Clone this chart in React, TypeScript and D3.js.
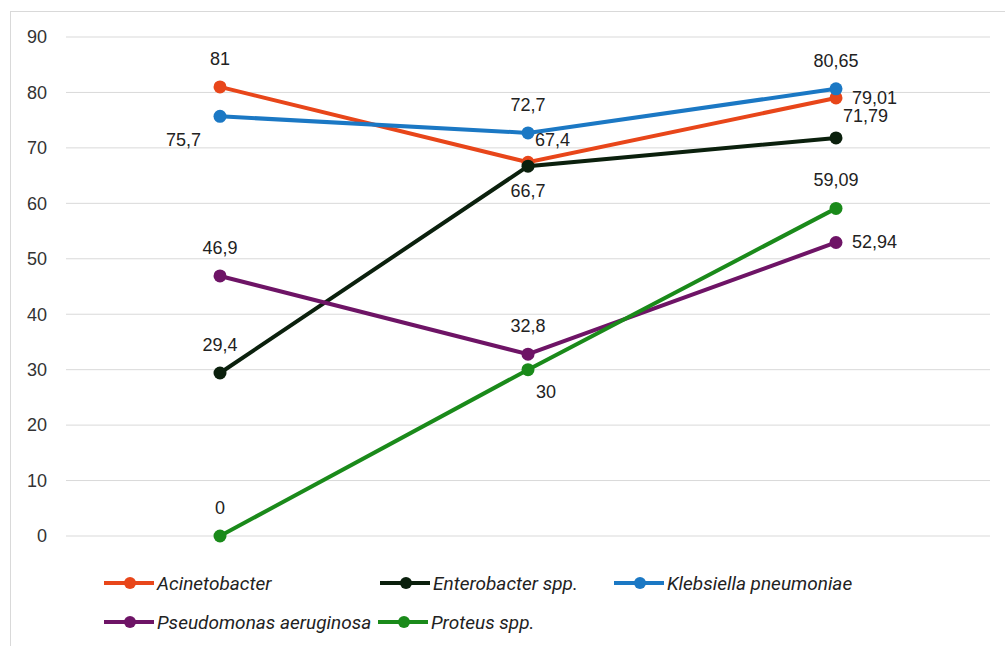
import React from "react";
import * as d3 from "d3";

const categories = ["A", "B", "C"];
const yTicks = [0, 10, 20, 30, 40, 50, 60, 70, 80, 90];
const seriesNames = [
  "Acinetobacter",
  "Enterobacter spp.",
  "Klebsiella pneumoniae",
  "Pseudomonas aeruginosa",
  "Proteus spp.",
];
const acinetobacter = [81, 67.4, 79.01];
const enterobacter = [29.4, 66.7, 71.79];
const klebsiella = [75.7, 72.7, 80.65];
const pseudomonas = [46.9, 32.8, 52.94];
const proteus = [0, 30, 59.09];
const seriesColors = ["#E8461A", "#0B200D", "#1B78C4", "#6E1466", "#1A8A1A"];

// label placement per point
const labelPos = [
  ["above", "aboveRight", "right"],
  ["above", "below", "aboveRight"],
  ["leftBelow", "above", "above"],
  ["above", "above", "right"],
  ["above", "belowRight", "above"],
];

const W = 1005;
const H = 646;

export default function App() {
  const values = [acinetobacter, enterobacter, klebsiella, pseudomonas, proteus];
  const x = d3.scaleBand().domain(categories).range([66, 990]);
  const y = d3.scaleLinear().domain([0, 90]).range([536, 37]);
  const cx = (c: string) => (x(c) as number) + x.bandwidth() / 2;
  const line = d3
    .line<number>()
    .x((_, i) => cx(categories[i]))
    .y((d) => y(d));
  const fmt = (v: number) => String(v).replace(".", ",");
  const off: Record<string, [number, number, string]> = {
    above: [0, -22, "middle"],
    below: [0, 31, "middle"],
    right: [16, 6, "start"],
    aboveRight: [7, -16, "start"],
    belowRight: [8, 28, "start"],
    leftBelow: [-19, 30, "end"],
  };
  const legendItems = [
    { i: 0, x: 104, y: 583 },
    { i: 1, x: 380, y: 583 },
    { i: 2, x: 614, y: 583 },
    { i: 3, x: 104, y: 622 },
    { i: 4, x: 378, y: 622 },
  ];
  return (
    <svg
      width={W}
      height={H}
      style={{ position: "absolute", left: 0, top: 0, background: "#fff" }}
      fontFamily="'Liberation Sans', Arial, sans-serif"
    >
      <rect x={10.5} y={11.5} width={1000} height={640} fill="#fff" stroke="#d9d9d9" />
      {yTicks.map((t) => (
        <g key={t}>
          <line x1={66} x2={990} y1={y(t)} y2={y(t)} stroke="#d9d9d9" strokeWidth={1} />
          <text x={47} y={y(t)} dy="0.35em" textAnchor="end" fontSize={18} fill="#333">
            {t}
          </text>
        </g>
      ))}
      {values.map((vals, s) => (
        <g key={s}>
          <path d={line(vals) || ""} fill="none" stroke={seriesColors[s]} strokeWidth={4} />
          {vals.map((v, i) => (
            <circle key={i} cx={cx(categories[i])} cy={y(v)} r={6.5} fill={seriesColors[s]} />
          ))}
        </g>
      ))}
      {values.map((vals, s) =>
        vals.map((v, i) => {
          const o = off[labelPos[s][i]];
          return (
            <text
              key={`${s}-${i}`}
              x={cx(categories[i]) + o[0]}
              y={y(v) + o[1]}
              textAnchor={o[2] as any}
              fontSize={18}
              fill="#222"
            >
              {fmt(v)}
            </text>
          );
        })
      )}
      {legendItems.map((it) => (
        <g key={it.i}>
          <line
            x1={it.x}
            x2={it.x + 50}
            y1={it.y}
            y2={it.y}
            stroke={seriesColors[it.i]}
            strokeWidth={4}
          />
          <circle cx={it.x + 26} cy={it.y} r={6} fill={seriesColors[it.i]} />
          <text
            x={it.x + 53}
            y={it.y}
            dy="0.35em"
            fontSize={19}
            fontStyle="italic"
            fontFamily="Roboto, sans-serif"
            fill="#222"
          >
            {seriesNames[it.i]}
          </text>
        </g>
      ))}
    </svg>
  );
}
